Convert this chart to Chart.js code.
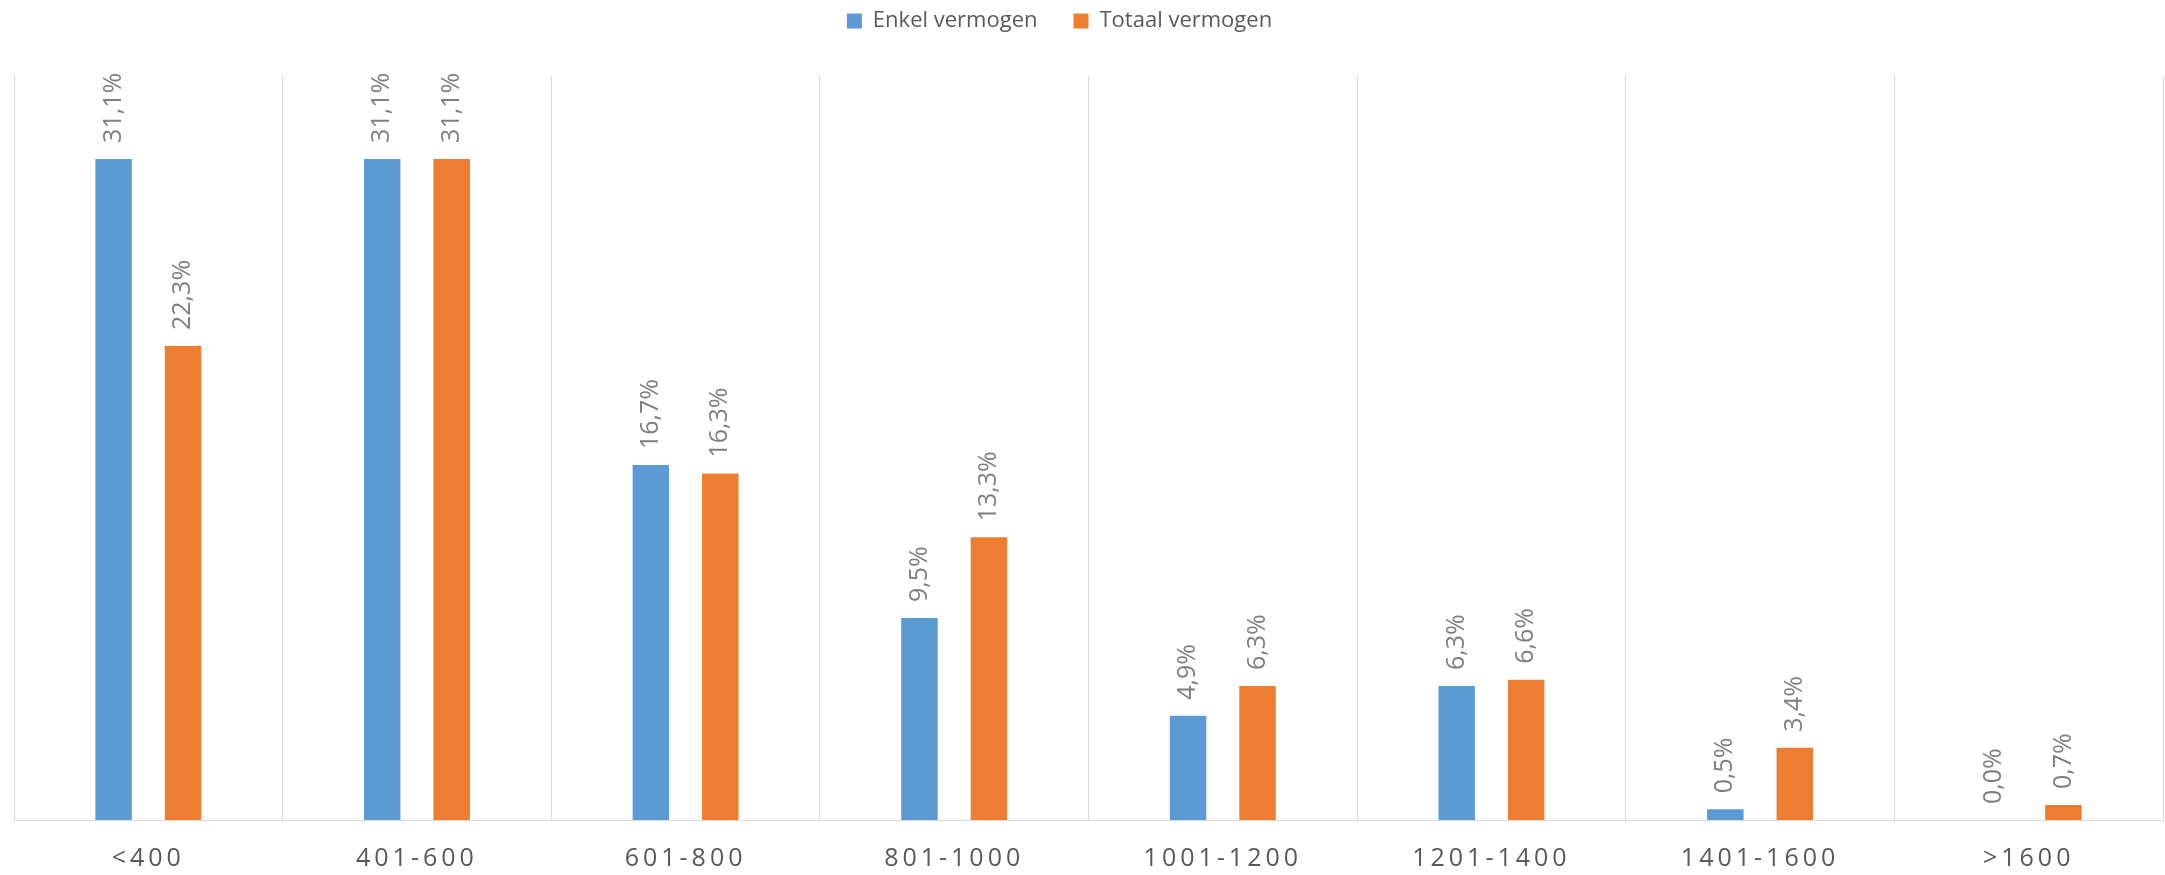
<!DOCTYPE html>
<html>
<head>
<meta charset="utf-8">
<script src="https://cdn.jsdelivr.net/npm/chart.js@4.4.0/dist/chart.umd.min.js"></script>
<style>
  html, body { margin: 0; padding: 0; background: #fff; }
</style>
</head>
<body>
<canvas id="myChart" width="2165" height="875"></canvas>
<script>
// Gegevens uit de grafiek
const categorieen = ['<400', '401-600', '601-800', '801-1000', '1001-1200', '1201-1400', '1401-1600', '>1600'];
const enkelVermogen = [31.1, 31.1, 16.7, 9.5, 4.9, 6.3, 0.5, 0.0];
const totaalVermogen = [22.3, 31.1, 16.3, 13.3, 6.3, 6.6, 3.4, 0.7];
const reeksNamen = ['Enkel vermogen', 'Totaal vermogen'];
const yMax = 35;

const lettertype = '"Open Sans", "DejaVu Sans", sans-serif';

function procent(v) {
  return v.toFixed(1).replace('.', ',') + '%';
}

// Waardelabels boven de staven, gedraaid
const waardeLabels = {
  id: 'waardeLabels',
  afterDatasetsDraw(chart) {
    const ctx = chart.ctx;
    ctx.save();
    ctx.font = '25px ' + lettertype;
    ctx.fillStyle = '#7f7f7f';
    ctx.textAlign = 'left';
    ctx.textBaseline = 'middle';
    chart.data.datasets.forEach((ds, i) => {
      chart.getDatasetMeta(i).data.forEach((bar, j) => {
        ctx.save();
        ctx.translate(bar.x, bar.y - 16);
        ctx.rotate(-Math.PI / 2);
        ctx.fillText(procent(ds.data[j]), 0, 0);
        ctx.restore();
      });
    });
    ctx.restore();
  }
};

// Legenda iets hoger maken en naar links schuiven, x-labels met letterafstand
const opmaak = {
  id: 'opmaak',
  beforeInit(chart) {
    const fit = chart.legend.fit;
    chart.legend.fit = function () {
      fit.call(this);
      this.height += 34;
    };
  },
  afterLayout(chart) {
    chart.legend.left -= 29;
    chart.legend.right -= 29;
  },
  beforeDraw(chart) {
    const x = chart.scales.x;
    if (!x._spatie) {
      const orig = x.drawLabels;
      x.drawLabels = function (area) {
        this.ctx.save();
        this.ctx.letterSpacing = '4px';
        orig.call(this, area);
        this.ctx.restore();
      };
      x._spatie = true;
    }
  }
};

const ctx = document.getElementById('myChart').getContext('2d');
const myChart = new Chart(ctx, {
  type: 'bar',
  data: {
    labels: categorieen,
    datasets: [{
      label: reeksNamen[0],
      data: enkelVermogen,
      backgroundColor: '#5B9BD5',
      borderWidth: 0
    }, {
      label: reeksNamen[1],
      data: totaalVermogen,
      backgroundColor: '#ED7D31',
      borderWidth: 0
    }]
  },
  options: {
    responsive: false,
    animation: false,
    devicePixelRatio: 1,
    categoryPercentage: 0.517,
    barPercentage: 0.525,
    layout: {
      padding: { top: -26, left: 14, right: 2, bottom: -23 }
    },
    plugins: {
      tooltip: { enabled: false },
      legend: {
        position: 'top',
        labels: {
          boxWidth: 15,
          boxHeight: 15,
          padding: 36,
          color: '#595959',
          font: { family: lettertype, size: 22 }
        }
      }
    },
    scales: {
      x: {
        grid: {
          color: '#d9d9d9',
          lineWidth: 1,
          drawTicks: false,
          offset: true
        },
        border: { color: '#d9d9d9', width: 1 },
        ticks: {
          color: '#595959',
          padding: 24,
          autoSkip: false,
          maxRotation: 0,
          font: { family: lettertype, size: 25 }
        }
      },
      y: {
        display: false,
        min: 0,
        max: yMax
      }
    }
  },
  plugins: [waardeLabels, opmaak]
});
</script>
</body>
</html>
